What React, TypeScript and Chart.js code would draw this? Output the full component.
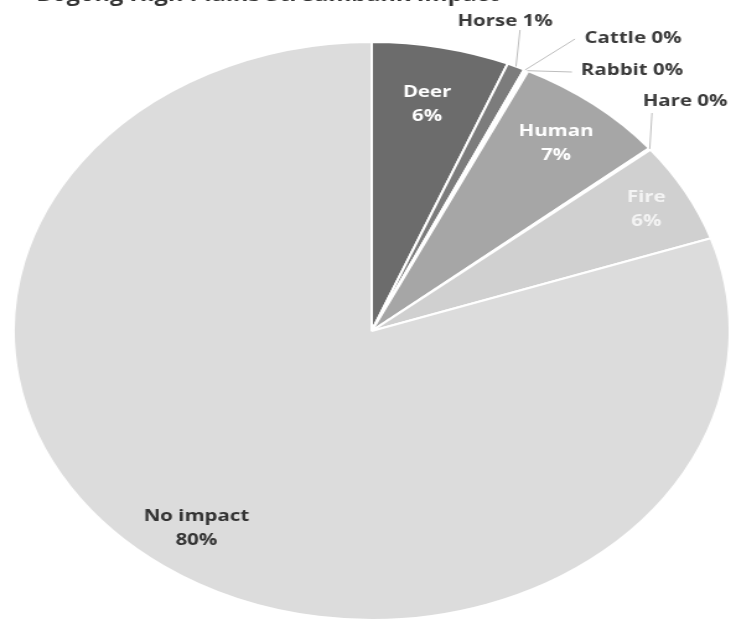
import React, { useEffect, useRef } from "react";
import { Chart, registerables } from "chart.js";

Chart.register(...registerables);

const title = "Bogong High Plains Streambank Impact";
const categories = ["Deer", "Horse", "Cattle", "Rabbit", "Human", "Hare", "Fire", "No impact"];
const values = [6.2, 0.8, 0.1, 0.1, 6.9, 0.1, 5.6, 80.2];
const percentLabels = ["6%", "1%", "0%", "0%", "7%", "0%", "6%", "80%"];
const colors = ["#6c6c6c", "#7c7c7c", "#c8c8c8", "#e2e2e2", "#a6a6a6", "#c4c4c4", "#d0d0d0", "#dcdcdc"];

const W = 590;
const H = 624;
const CSSW = 731;
const SX = CSSW / W;

type Lay =
  | { kind: "in"; r: number; color: string }
  | { kind: "out"; tx: number; ty: number; lx: number; ly: number };
const layout: Lay[] = [
  { kind: "in", r: 0.8, color: "#ffffff" },
  { kind: "out", tx: 505, ty: 21, lx: 520, ly: 30 },
  { kind: "out", tx: 633, ty: 38, lx: 575, ly: 39 },
  { kind: "out", tx: 632, ty: 70, lx: 572, ly: 72 },
  { kind: "in", r: 0.83, color: "#ffffff" },
  { kind: "out", tx: 685, ty: 101, lx: 652, ly: 113 },
  { kind: "in", r: 0.875, color: "#f4f4f4" },
  { kind: "in", r: 0.84, color: "#333333" },
];

const labelPlugin = {
  id: "labels",
  afterDraw(chart: any) {
    const ctx = chart.ctx;
    const meta = chart.getDatasetMeta(0);
    ctx.save();
    ctx.font = "bold 16.5px 'Open Sans', sans-serif";
    ctx.textAlign = "center";
    ctx.textBaseline = "middle";
    meta.data.forEach((arc: any, i: number) => {
      const p = arc.getProps(["x", "y", "startAngle", "endAngle", "outerRadius"], true);
      const mid = (p.startAngle + p.endAngle) / 2;
      const lay = layout[i];
      if (lay.kind === "in") {
        const x = p.x + Math.cos(mid) * p.outerRadius * lay.r;
        const y = p.y + Math.sin(mid) * p.outerRadius * lay.r;
        ctx.fillStyle = lay.color;
        ctx.fillText(categories[i], x, y - 12);
        ctx.fillText(percentLabels[i], x, y + 12);
      } else {
        const ax = p.x + Math.cos(mid) * p.outerRadius;
        const ay = p.y + Math.sin(mid) * p.outerRadius;
        ctx.strokeStyle = "#bdbdbd";
        ctx.lineWidth = 1;
        ctx.beginPath();
        ctx.moveTo(ax, ay);
        ctx.lineTo(lay.lx / SX, lay.ly);
        ctx.stroke();
        ctx.fillStyle = "#3a3a3a";
        ctx.fillText(categories[i] + " " + percentLabels[i], lay.tx / SX, lay.ty);
      }
    });
    ctx.font = "bold 19px 'Open Sans', sans-serif";
    ctx.fillStyle = "#333333";
    ctx.textBaseline = "alphabetic";
    ctx.fillText(title, 216, 1);
    ctx.restore();
  },
};

export default function App() {
  const ref = useRef<HTMLCanvasElement | null>(null);
  useEffect(() => {
    document.body.style.margin = "0";
    if (!ref.current) return;
    const chart = new Chart(ref.current, {
      type: "pie",
      data: {
        labels: categories,
        datasets: [
          {
            data: values,
            backgroundColor: colors,
            borderColor: "#ffffff",
            borderWidth: 2,
          },
        ],
      },
      options: {
        responsive: false,
        animation: false,
        layout: { padding: { left: 10, right: 0, top: 41, bottom: 3 } },
        plugins: { legend: { display: false }, tooltip: { enabled: false }, title: { display: false } },
      },
      plugins: [labelPlugin],
    });
    return () => chart.destroy();
  }, []);
  return (
    <div style={{ position: "fixed", left: 0, top: 0, width: CSSW, height: H, background: "#fff" }}>
      <canvas ref={ref} width={W} height={H} style={{ width: CSSW + "px", height: H + "px", display: "block" }} />
    </div>
  );
}
